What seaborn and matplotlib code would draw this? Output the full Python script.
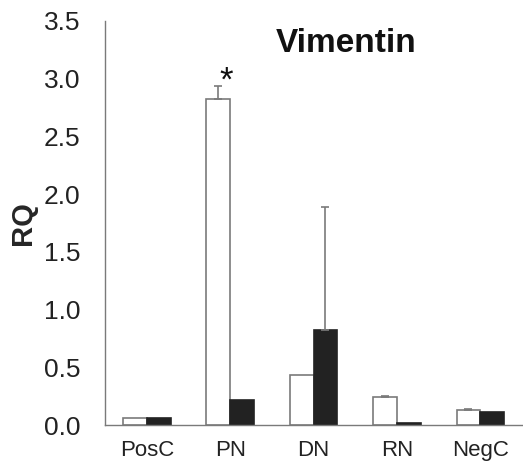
import matplotlib
matplotlib.use("Agg")
import matplotlib.pyplot as plt
import seaborn as sns
import pandas as pd
import numpy as np

# Data
categories = ["PosC", "PN", "DN", "RN", "NegC"]
series = ["open", "filled"]
open_values = [0.06, 2.82, 0.43, 0.24, 0.13]
filled_values = [0.06, 0.22, 0.82, 0.02, 0.11]
open_err = [0.0, 0.12, 0.0, 0.01, 0.01]
filled_err = [0.0, 0.0, 1.07, 0.0, 0.0]
yticks = [0.0, 0.5, 1.0, 1.5, 2.0, 2.5, 3.0, 3.5]

df = pd.DataFrame({
    "cat": categories * 2,
    "grp": [series[0]] * len(categories) + [series[1]] * len(categories),
    "val": open_values + filled_values,
})

sns.set_style("white")
plt.rcParams["font.family"] = ["Liberation Sans", "DejaVu Sans"]

fig = plt.figure(figsize=(5.23, 4.65), dpi=100)
ax = fig.add_axes([0.201, 0.086, 0.797, 0.869])

edge_gray = "#7a7a7a"
sns.barplot(data=df, x="cat", y="val", hue="grp", order=categories,
            hue_order=series, palette={"open": "white", "filled": "#222222"},
            width=0.57, errorbar=None, legend=False, ax=ax,
            edgecolor=edge_gray, linewidth=1.2)

# Colour edges per series
for patch in ax.patches:
    if patch.get_facecolor()[0] < 0.5:
        patch.set_edgecolor("#222222")

# Upper-only error bars at the centre of each bar
bw = 0.57 / 2
x = np.arange(len(categories))
for vals, errs, off in [(open_values, open_err, -bw / 2), (filled_values, filled_err, bw / 2)]:
    for xi, v, e in zip(x, vals, errs):
        if e > 0:
            ax.errorbar(xi + off, v, yerr=[[0], [e]], fmt="none",
                        ecolor=edge_gray, elinewidth=1.2, capsize=3, capthick=1.2)

# Significance marker
ax.text(x[1] - bw / 2 + 0.1, open_values[1] + open_err[1] + 0.04, "*",
        ha="center", va="center", fontsize=25, color="#111111")

ax.set_xlim(-0.5, 4.5)
ax.set_ylim(0, 3.5)
ax.set_yticks(yticks)
ax.set_yticklabels([f"{t:.1f}" for t in yticks])
ax.set_xlabel("")
ax.set_ylabel("RQ", fontsize=21, fontweight="bold", labelpad=5)

# Category separators as minor ticks
ax.set_xticks(np.arange(-0.5, 5.0, 1.0), minor=True)
ax.tick_params(axis="x", which="major", length=0, labelsize=16, pad=11, colors="#222222")
ax.tick_params(axis="x", which="minor", length=6, width=0.8, color=edge_gray, direction="out")
ax.tick_params(axis="y", length=6, width=0.8, color=edge_gray, labelsize=19,
               direction="out", pad=12, labelcolor="#222222")

for side in ["top", "right"]:
    ax.spines[side].set_visible(False)
for side in ["left", "bottom"]:
    ax.spines[side].set_color(edge_gray)
    ax.spines[side].set_linewidth(1.0)

ax.text(0.579, 0.945, "Vimentin", transform=ax.transAxes, fontsize=24,
        fontweight="bold", ha="center", va="center", color="#111111")

fig.savefig("out.png", dpi=100, facecolor="white")
